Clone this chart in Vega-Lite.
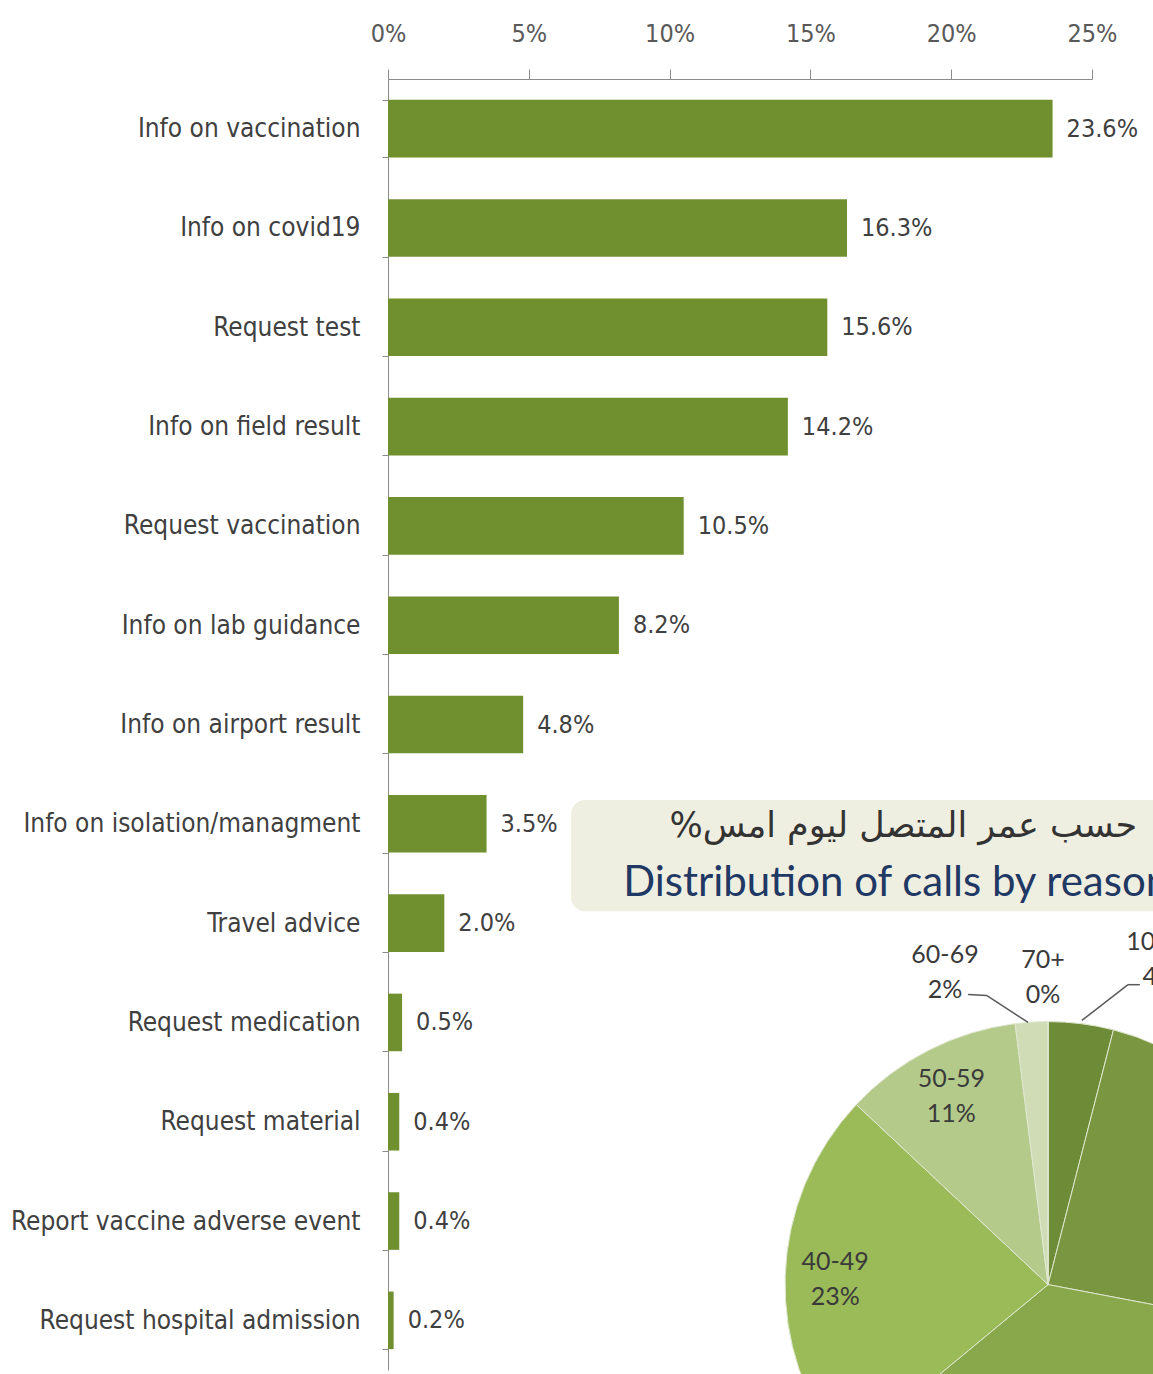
{
  "$schema": "https://vega.github.io/schema/vega-lite/v6.json",
  "autosize": {"type": "none"},
  "width": 704,
  "height": 1291,
  "padding": {"left": 388, "top": 79, "right": 61, "bottom": 4},
  "background": "white",
  "config": {"view": {"stroke": null}},
  "datasets": {
    "reasons": [
      {"reason": "Info on vaccination", "share": 0.236},
      {"reason": "Info on covid19", "share": 0.163},
      {"reason": "Request test", "share": 0.156},
      {"reason": "Info on field result", "share": 0.142},
      {"reason": "Request vaccination", "share": 0.105},
      {"reason": "Info on lab guidance", "share": 0.082},
      {"reason": "Info on airport result", "share": 0.048},
      {"reason": "Info on isolation/managment", "share": 0.035},
      {"reason": "Travel advice", "share": 0.020},
      {"reason": "Request medication", "share": 0.005},
      {"reason": "Request material", "share": 0.004},
      {"reason": "Report vaccine adverse event", "share": 0.004},
      {"reason": "Request hospital admission", "share": 0.002}
    ],
    "ages": [
      {"age": "10-19", "share": 0.04},
      {"age": "20-29", "share": 0.24},
      {"age": "30-39", "share": 0.36},
      {"age": "40-49", "share": 0.23},
      {"age": "50-59", "share": 0.11},
      {"age": "60-69", "share": 0.02},
      {"age": "70+", "share": 0.0}
    ]
  },
  "resolve": {"scale": {"y": "independent"}, "axis": {"x": "independent", "y": "independent"}},
  "layer": [
    {
      "data": {"name": "reasons"},
      "encoding": {
        "y": {
          "field": "reason",
          "type": "nominal",
          "sort": null,
          "scale": {"paddingInner": 0.42, "paddingOuter": 0.21},
          "axis": {
            "title": null,
            "orient": "left",
            "tickBand": "extent",
            "tickSize": 6,
            "tickColor": "#8c8c8c",
            "domainColor": "#8c8c8c",
            "labelPadding": 22,
            "labelLimit": 400,
            "labelFont": "'DejaVu Sans Condensed', sans-serif",
            "labelFontSize": 26,
            "labelColor": "#404040"
          }
        }
      },
      "layer": [
        {
          "mark": {"type": "bar", "color": "#70902f"},
          "encoding": {
            "x": {
              "field": "share",
              "type": "quantitative",
              "scale": {"domain": [0, 0.25], "nice": false},
              "axis": {
                "title": null,
                "orient": "top",
                "values": [0, 0.05, 0.1, 0.15, 0.2, 0.25],
                "format": ".0%",
                "grid": false,
                "labelFlush": false,
                "tickSize": 10,
                "tickColor": "#8c8c8c",
                "domainColor": "#8c8c8c",
                "labelPadding": 23,
                "labelFont": "'DejaVu Sans Condensed', sans-serif",
                "labelFontSize": 25,
                "labelColor": "#595959"
              }
            }
          }
        },
        {
          "mark": {
            "type": "text",
            "align": "left",
            "baseline": "middle",
            "dx": 14,
            "font": "'DejaVu Sans Condensed', sans-serif",
            "fontSize": 25,
            "color": "#404040"
          },
          "encoding": {
            "x": {"field": "share", "type": "quantitative"},
            "text": {"field": "share", "type": "quantitative", "format": ".1%"}
          }
        }
      ]
    },
    {
      "layer": [
        {
          "data": {"values": [{}]},
          "mark": {"type": "rect", "fill": "#efefe1", "cornerRadius": 14},
          "encoding": {
            "x": {"datum": 0.065, "type": "quantitative", "axis": null},
            "x2": {"datum": 0.281},
            "y": {"datum": 7.26, "type": "quantitative", "scale": {"domain": [0, 13], "nice": false, "zero": true, "reverse": true}, "axis": null},
            "y2": {"datum": 8.38}
          }
        },
        {
          "data": {"values": [{}]},
          "mark": {
            "type": "text",
            "text": "%حسب عمر المتصل ليوم امس",
            "align": "left",
            "baseline": "middle",
            "font": "'DejaVu Sans', sans-serif",
            "fontSize": 35,
            "color": "#333333"
          },
          "encoding": {
            "x": {"datum": 0.1, "type": "quantitative", "axis": null},
            "y": {"datum": 7.52, "type": "quantitative", "axis": null}
          }
        },
        {
          "data": {"values": [{}]},
          "mark": {
            "type": "text",
            "text": "Distribution of calls by reason",
            "align": "left",
            "baseline": "middle",
            "font": "Lato",
            "fontSize": 42,
            "color": "#1f3864"
          },
          "encoding": {
            "x": {"datum": 0.0835, "type": "quantitative", "axis": null},
            "y": {"datum": 8.1, "type": "quantitative", "axis": null}
          }
        },
        {
          "data": {"name": "ages"},
          "mark": {"type": "arc", "radius": 263, "stroke": "#dfe7cf", "strokeWidth": 1},
          "encoding": {
            "x": {"datum": 0.2344, "type": "quantitative", "axis": null},
            "y": {"datum": 12.14, "type": "quantitative", "axis": null},
            "theta": {"field": "share", "type": "quantitative", "stack": true},
            "order": {"field": "age", "type": "ordinal", "sort": "ascending"},
            "color": {
              "field": "age",
              "type": "nominal",
              "scale": {
                "domain": ["10-19", "20-29", "30-39", "40-49", "50-59", "60-69", "70+"],
                "range": ["#6e8c37", "#7a9641", "#89a84b", "#9bbb59", "#b4ca8b", "#cfdcb6", "#e0e8cf"]
              },
              "legend": null
            }
          }
        },
        {
          "data": {"name": "ages"},
          "transform": [{"calculate": "[datum.age, format(datum.share, '.0%')]", "as": "label"}],
          "mark": {
            "type": "text",
            "radius": 213,
            "dy": -16,
            "lineHeight": 35,
            "baseline": "middle",
            "font": "Lato",
            "fontSize": 25,
            "color": "#3a3a3a"
          },
          "encoding": {
            "x": {"datum": 0.2344, "type": "quantitative", "axis": null},
            "y": {"datum": 12.14, "type": "quantitative", "axis": null},
            "theta": {"field": "share", "type": "quantitative", "stack": true},
            "order": {"field": "age", "type": "ordinal", "sort": "ascending"},
            "detail": {"field": "age", "type": "nominal"},
            "text": {"condition": {"test": "datum.share >= 0.1", "field": "label", "type": "nominal"}, "value": ""}
          }
        },
        {
          "data": {"name": "ages"},
          "transform": [
            {"filter": "datum.age == '60-69'"},
            {"calculate": "[datum.age, format(datum.share, '.0%')]", "as": "label"}
          ],
          "mark": {"type": "text", "lineHeight": 35, "baseline": "middle", "font": "Lato", "fontSize": 25, "color": "#3a3a3a"},
          "encoding": {
            "x": {"datum": 0.1978, "type": "quantitative", "axis": null},
            "y": {"datum": 8.82, "type": "quantitative", "axis": null},
            "text": {"field": "label", "type": "nominal"}
          }
        },
        {
          "data": {"name": "ages"},
          "transform": [
            {"filter": "datum.age == '70+'"},
            {"calculate": "[datum.age, format(datum.share, '.0%')]", "as": "label"}
          ],
          "mark": {"type": "text", "lineHeight": 35, "baseline": "middle", "font": "Lato", "fontSize": 25, "color": "#3a3a3a"},
          "encoding": {
            "x": {"datum": 0.2326, "type": "quantitative", "axis": null},
            "y": {"datum": 8.87, "type": "quantitative", "axis": null},
            "text": {"field": "label", "type": "nominal"}
          }
        },
        {
          "data": {"name": "ages"},
          "transform": [
            {"filter": "datum.age == '10-19'"},
            {"calculate": "[datum.age, format(datum.share, '.0%')]", "as": "label"}
          ],
          "mark": {"type": "text", "lineHeight": 35, "baseline": "middle", "font": "Lato", "fontSize": 25, "color": "#3a3a3a"},
          "encoding": {
            "x": {"datum": 0.2741, "type": "quantitative", "axis": null},
            "y": {"datum": 8.69, "type": "quantitative", "axis": null},
            "text": {"field": "label", "type": "nominal"}
          }
        },
        {
          "data": {"values": [{}]},
          "mark": {"type": "rule", "color": "#595959", "strokeWidth": 1.5},
          "encoding": {
            "x": {"datum": 0.206, "type": "quantitative", "axis": null},
            "x2": {"datum": 0.2127},
            "y": {"datum": 9.22, "type": "quantitative", "axis": null},
            "y2": {"datum": 9.23}
          }
        },
        {
          "data": {"values": [{}]},
          "mark": {"type": "rule", "color": "#595959", "strokeWidth": 1.5},
          "encoding": {
            "x": {"datum": 0.2127, "type": "quantitative", "axis": null},
            "x2": {"datum": 0.2273},
            "y": {"datum": 9.23, "type": "quantitative", "axis": null},
            "y2": {"datum": 9.5}
          }
        },
        {
          "data": {"values": [{}]},
          "mark": {"type": "rule", "color": "#595959", "strokeWidth": 1.5},
          "encoding": {
            "x": {"datum": 0.2464, "type": "quantitative", "axis": null},
            "x2": {"datum": 0.2628},
            "y": {"datum": 9.48, "type": "quantitative", "axis": null},
            "y2": {"datum": 9.12}
          }
        },
        {
          "data": {"values": [{}]},
          "mark": {"type": "rule", "color": "#595959", "strokeWidth": 1.5},
          "encoding": {
            "x": {"datum": 0.2628, "type": "quantitative", "axis": null},
            "x2": {"datum": 0.267},
            "y": {"datum": 9.12, "type": "quantitative", "axis": null},
            "y2": {"datum": 9.12}
          }
        }
      ]
    }
  ]
}
